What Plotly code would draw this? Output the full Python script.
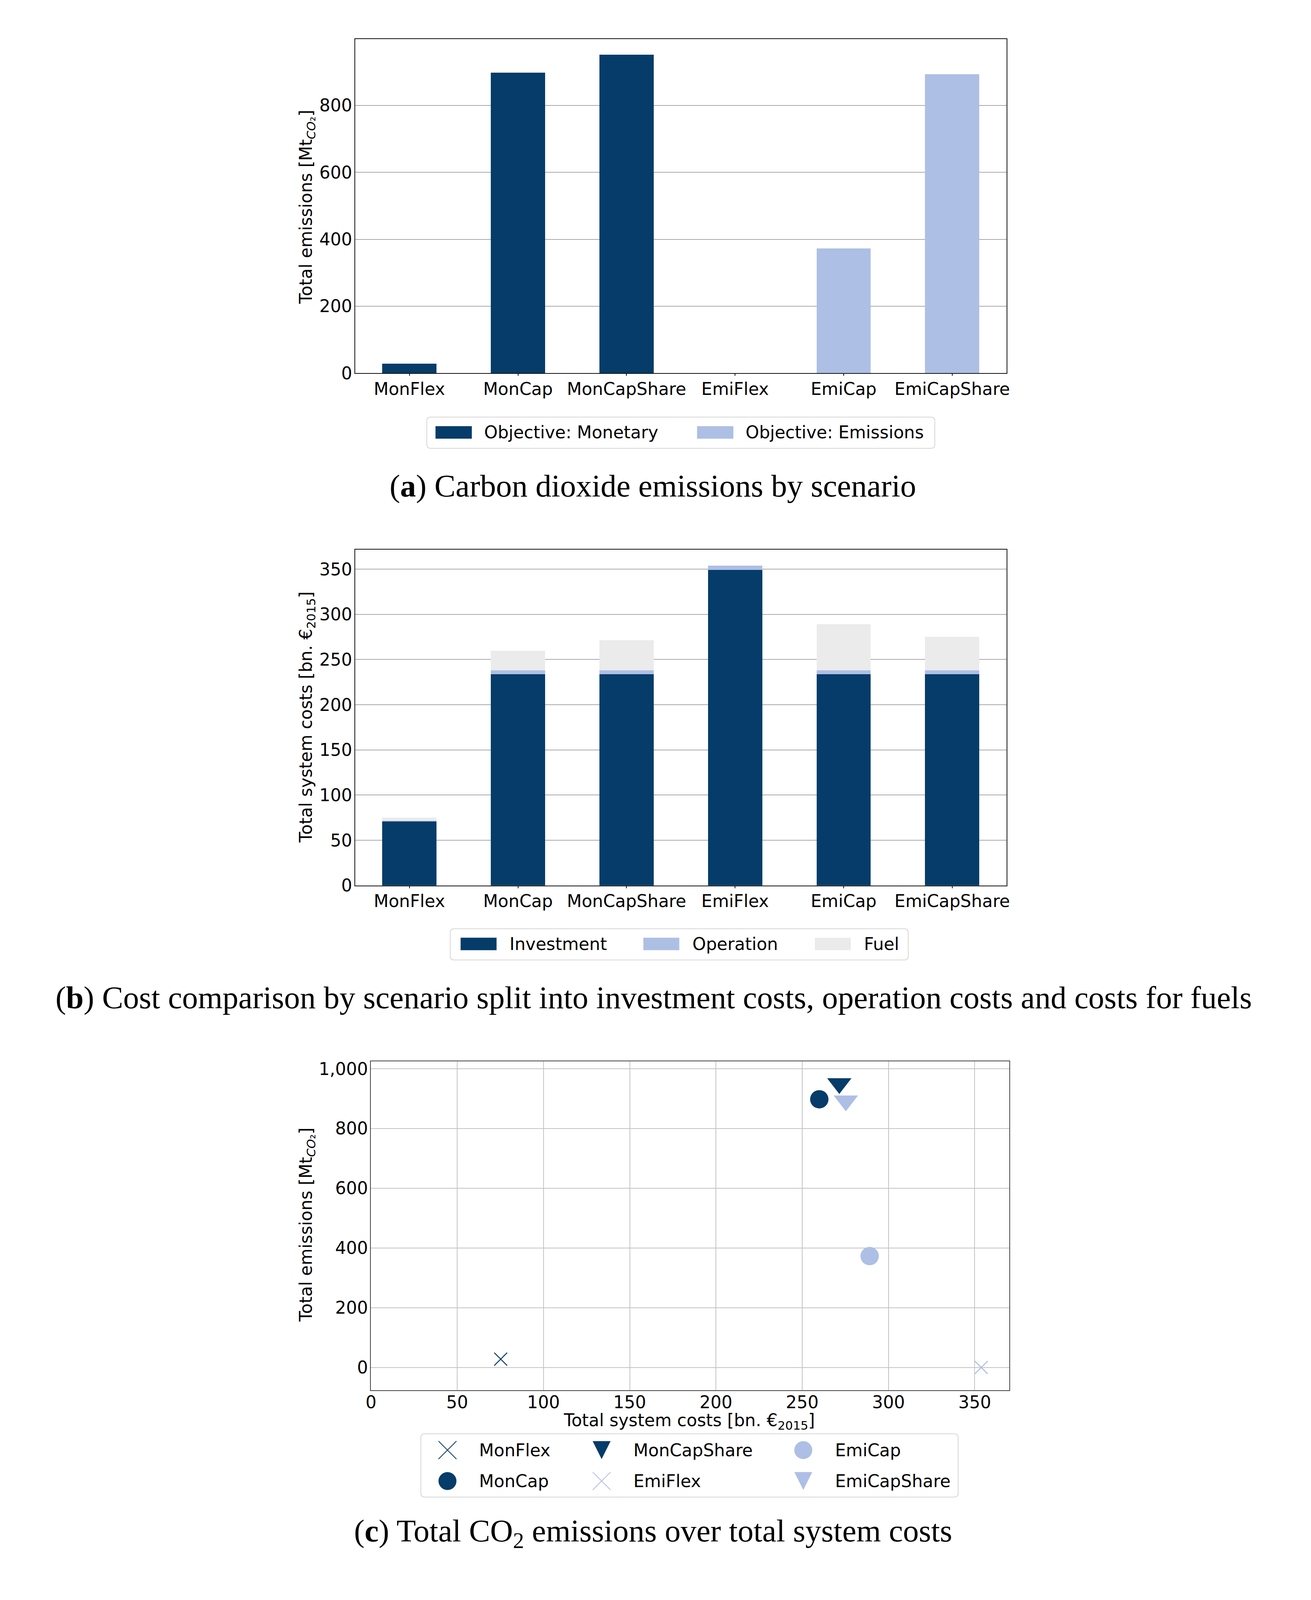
import plotly.graph_objects as go

# ---------------- data ----------------
scenarios = ["MonFlex", "MonCap", "MonCapShare", "EmiFlex", "EmiCap", "EmiCapShare"]
objective = ["Monetary", "Monetary", "Monetary", "Emissions", "Emissions", "Emissions"]
emissions = [28, 898, 951, 0, 373, 893]                  # Mt CO2
investment = [70.9, 233.6, 233.6, 349.2, 233.6, 233.6]   # bn EUR2015
operation = [1.0, 4.6, 4.6, 4.6, 4.6, 4.6]
fuel = [3.3, 21.7, 33.3, 0.0, 50.9, 37.1]
objective_names = ["Monetary", "Emissions"]
cost_parts = ["Investment", "Operation", "Fuel"]
markers = ["x-thin", "circle", "triangle-down", "x-thin", "circle", "triangle-down"]
y_ticks_a = [0, 200, 400, 600, 800]
y_ticks_b = [0, 50, 100, 150, 200, 250, 300, 350]
x_ticks_c = [0, 50, 100, 150, 200, 250, 300, 350]
y_ticks_c = [0, 200, 400, 600, 800, 1000]

DARK = "#053c69"
LIGHT = "#aebfe5"
GREY = "#ebebeb"
obj_colors = {"Monetary": DARK, "Emissions": LIGHT}
part_colors = [DARK, LIGHT, GREY]
scen_colors = [obj_colors[o] for o in objective]
total_costs = [i + o + f for i, o, f in zip(investment, operation, fuel)]

# reference frame (pixels) used to place elements as fractions of the page
W, H = 3355, 4353
FONT = "DejaVu Sans"
SERIF = "Liberation Serif"
FS = 44
LW = 1.5


def fx(x):
    return x / W


def fy(y):
    return 1 - y / H


fig = go.Figure()

# ---------------- panel a ----------------
for name in objective_names:
    xs = [s for s, o in zip(scenarios, objective) if o == name]
    ys = [e for e, o in zip(emissions, objective) if o == name]
    fig.add_trace(go.Bar(x=xs, y=ys, name="Objective: " + name,
                         marker=dict(color=obj_colors[name], line=dict(width=0)),
                         xaxis="x", yaxis="y", showlegend=False))

# ---------------- panel b ----------------
for part, vals, col in zip(cost_parts, [investment, operation, fuel], part_colors):
    fig.add_trace(go.Bar(x=scenarios, y=vals, name=part,
                         marker=dict(color=col, line=dict(width=0)),
                         xaxis="x2", yaxis="y2", showlegend=False))

# ---------------- panel c ----------------
for s, c, e, m, col in zip(scenarios, total_costs, emissions, markers, scen_colors):
    if m == "x-thin":
        mk = dict(symbol=m, size=33, color=col, line=dict(color=col, width=2.5))
    elif m == "circle":
        mk = dict(symbol=m, size=47, color=col, line=dict(width=0))
    else:
        mk = dict(symbol=m, size=54, color=col, line=dict(width=0))
    fig.add_trace(go.Scatter(x=[c], y=[e], mode="markers", name=s, marker=mk,
                             xaxis="x3", yaxis="y3", showlegend=False, cliponaxis=False))

tickfont = dict(family=FONT, size=FS, color="black")

common_x = dict(showline=True, mirror=True, linecolor="#111111", linewidth=LW,
                tickfont=tickfont, zeroline=False, ticklabelstandoff=-4)
common_y = dict(showline=True, mirror=True, linecolor="#111111", linewidth=LW,
                tickfont=tickfont, zeroline=False, ticks="", ticklabelstandoff=-3,
                showgrid=True, gridcolor="#aaaaaa", gridwidth=LW)

fig.update_layout(
    autosize=True,
    margin=dict(l=0, r=0, t=0, b=0),
    paper_bgcolor="white", plot_bgcolor="white",
    barmode="stack", bargap=0.5,
    showlegend=False,
    xaxis=dict(domain=[fx(897), fx(2583)], anchor="y", type="category",
               categoryorder="array", categoryarray=scenarios,
               ticks="outside", ticklen=5, tickwidth=1.5, tickcolor="#111111",
               showgrid=False, **common_x),
    yaxis=dict(domain=[fy(1012), fy(92)], anchor="x",
               range=[0, max(emissions) * 1.05], tickvals=y_ticks_a, **common_y),
    xaxis2=dict(domain=[fx(897), fx(2583)], anchor="y2", type="category",
                categoryorder="array", categoryarray=scenarios,
                ticks="outside", ticklen=5, tickwidth=1.5, tickcolor="#111111",
                showgrid=False, **common_x),
    yaxis2=dict(domain=[fy(2422), fy(1498)], anchor="x2",
                range=[0, max(total_costs) * 1.05], tickvals=y_ticks_b, **common_y),
    xaxis3=dict(domain=[fx(938), fx(2590)], anchor="y3",
                range=[0, 370], tickvals=x_ticks_c, ticks="", ticklabelstandoff=-8,
                showgrid=True, gridcolor="#c4c4c4", gridwidth=LW,
                showline=True, mirror=True, linecolor="#444444", linewidth=LW,
                tickfont=tickfont, zeroline=False),
    yaxis3=dict(domain=[fy(3811), fy(2906)], anchor="x3",
                range=[-76, 1025], tickvals=y_ticks_c, tickformat=",d", ticks="",
                ticklabelstandoff=-3,
                showgrid=True, gridcolor="#c4c4c4", gridwidth=LW,
                showline=True, mirror=True, linecolor="#444444", linewidth=LW,
                tickfont=tickfont, zeroline=False),
)

annotations = []
shapes = []


def text(x, y, s, size=FS, family=FONT, xanchor="left", angle=0):
    annotations.append(dict(x=fx(x), y=fy(y), xref="paper", yref="paper", text=s,
                            showarrow=False, xanchor=xanchor, yanchor="middle",
                            textangle=angle, font=dict(family=family, size=size, color="black")))


def legend_box(x0, y0, x1, y1, r=10):
    cx, cy = (x0 + x1) / 2, (y0 + y1) / 2
    w2, h2 = (x1 - x0) / 2, (y1 - y0) / 2
    path = (f"M{-w2 + r},{h2} L{w2 - r},{h2} Q{w2},{h2} {w2},{h2 - r} "
            f"L{w2},{-h2 + r} Q{w2},{-h2} {w2 - r},{-h2} L{-w2 + r},{-h2} "
            f"Q{-w2},{-h2} {-w2},{-h2 + r} L{-w2},{h2 - r} Q{-w2},{h2} {-w2 + r},{h2} Z")
    shapes.append(dict(type="path", path=path, xref="paper", yref="paper",
                       xsizemode="pixel", ysizemode="pixel",
                       xanchor=fx(cx), yanchor=fy(cy),
                       line=dict(color="#d6d6d6", width=2), fillcolor="white", layer="above"))


def swatch(x0, cy, color, w=93, h=32):
    shapes.append(dict(type="rect", xref="paper", yref="paper",
                       xsizemode="pixel", ysizemode="pixel",
                       xanchor=fx(x0), yanchor=fy(cy),
                       x0=0, x1=w, y0=-h / 2, y1=h / 2,
                       line=dict(width=0), fillcolor=color, layer="above"))


def marker_glyph(cx, cy, sym, color, r=23):
    base = dict(xref="paper", yref="paper", xsizemode="pixel", ysizemode="pixel",
                xanchor=fx(cx), yanchor=fy(cy), layer="above")
    if sym == "circle":
        shapes.append(dict(type="circle", x0=-r, x1=r, y0=-r, y1=r,
                           line=dict(width=0), fillcolor=color, **base))
    elif sym == "triangle-down":
        shapes.append(dict(type="path", path=f"M{-r},{r} L{r},{r} L0,{-r} Z",
                           line=dict(width=0), fillcolor=color, **base))
    else:
        shapes.append(dict(type="path", path=f"M{-r},{-r} L{r},{r} M{-r},{r} L{r},{-r}",
                           line=dict(width=2, color=color), **base))


# axis titles
text(772, 555, "Total emissions [Mt<sub><i>CO</i>₂</sub>]", xanchor="center", angle=-90)
text(772, 1958, "Total system costs [bn. €<sub>2015</sub>]", xanchor="center", angle=-90)
text(772, 3356, "Total emissions [Mt<sub><i>CO</i>₂</sub>]", xanchor="center", angle=-90)
text(1762, 3897, "Total system costs [bn. €<sub>2015</sub>]", xanchor="center")

# legend a
legend_box(1090, 1136, 2390, 1216)
for name, sx in zip(objective_names, [1105, 1782]):
    swatch(sx, 1175, obj_colors[name])
    text(sx + 124, 1175, "Objective: " + name)

# legend b
legend_box(1150, 2544, 2322, 2624)
for part, col, sx in zip(cost_parts, part_colors, [1170, 1643, 2087]):
    swatch(sx, 2583, col, w=92)
    text(sx + 125, 2583, part)

# legend c (2 rows, column-major)
legend_box(1075, 3937, 2450, 4099)
col_x = [1136, 1535, 2057]
row_y = [3976, 4061]
for i, (s, m, col) in enumerate(zip(scenarios, markers, scen_colors)):
    cx = col_x[i // 2]
    cy = row_y[i % 2]
    marker_glyph(cx, cy, m, col)
    text(cx + 80, cy, s)

# captions
CAP = 81
text(1668, 1322, "(<b>a</b>) Carbon dioxide emissions by scenario", size=CAP, family=SERIF, xanchor="center")
text(1670, 2731, "(<b>b</b>) Cost comparison by scenario split into investment costs, operation costs and costs for fuels",
     size=CAP, family=SERIF, xanchor="center")
text(1668, 4204, "(<b>c</b>) Total CO<sub>2</sub> emissions over total system costs", size=CAP, family=SERIF, xanchor="center")

fig.update_layout(annotations=annotations, shapes=shapes)
fig.write_html("out.html", default_width="calc(100vw - 16px)", default_height="calc(100vh - 16px)")
